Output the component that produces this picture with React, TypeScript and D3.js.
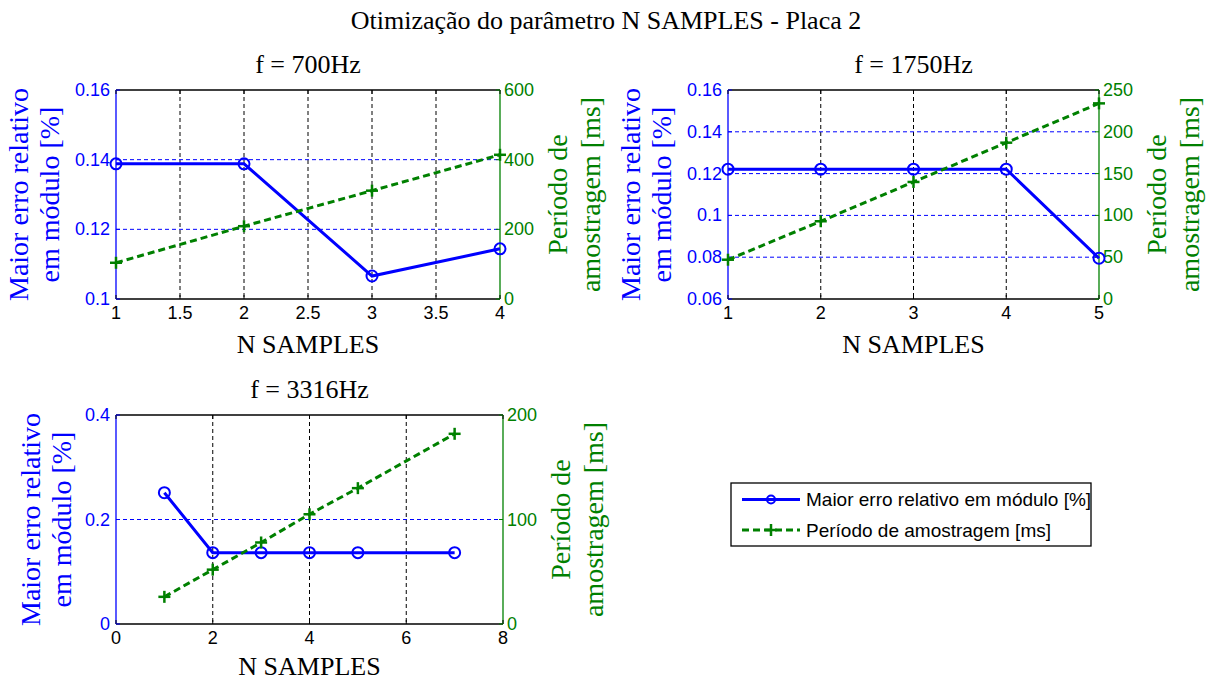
import React from "react";
import * as d3 from "d3";

// ---------- Data ----------
const mainTitle = "Otimização do parâmetro N SAMPLES - Placa 2";
const xLabel = "N SAMPLES";
const leftLabel = ["Maior erro relativo", "em módulo [%]"];
const rightLabel = ["Período de", "amostragem [ms]"];
const legendLabels = ["Maior erro relativo em módulo [%]", "Período de amostragem [ms]"];

const title700 = "f = 700Hz";
const nSamples700 = [1, 2, 3, 4];
const erro700 = [0.1388, 0.1388, 0.1066, 0.1144];
const periodo700 = [104, 209, 311, 414];
const xTicks700 = [1, 1.5, 2, 2.5, 3, 3.5, 4];
const yLeftTicks700 = [0.1, 0.12, 0.14, 0.16];
const yRightTicks700 = [0, 200, 400, 600];

const title1750 = "f = 1750Hz";
const nSamples1750 = [1, 2, 3, 4, 5];
const erro1750 = [0.1221, 0.1221, 0.1221, 0.1221, 0.0795];
const periodo1750 = [47, 93, 140, 187, 234];
const xTicks1750 = [1, 2, 3, 4, 5];
const yLeftTicks1750 = [0.06, 0.08, 0.1, 0.12, 0.14, 0.16];
const yRightTicks1750 = [0, 50, 100, 150, 200, 250];

const title3316 = "f = 3316Hz";
const nSamples3316 = [1, 2, 3, 4, 5, 7];
const erro3316 = [0.2513, 0.1365, 0.1365, 0.1365, 0.1365, 0.1365];
const periodo3316 = [26, 52, 78, 105, 130, 182];
const xTicks3316 = [0, 2, 4, 6, 8];
const yLeftTicks3316 = [0, 0.2, 0.4];
const yRightTicks3316 = [0, 100, 200];

// ---------- Styles ----------
const BLUE = "#0000ff";
const GREEN = "#008000";
const SERIF = "'Liberation Serif', 'Times New Roman', serif";
const SANS = "'Liberation Sans', Arial, sans-serif";
const LABEL_SIZE = 26;
const YLABEL_SIZE = 28;
const TICK_SIZE = 18;

const fmt = (v: number) => String(Number(v.toFixed(4)));

type PanelProps = {
  title: string;
  xs: number[];
  erro: number[];
  periodo: number[];
  xTicks: number[];
  yL: number[];
  yR: number[];
  box: { x0: number; x1: number; y0: number; y1: number };
  leftOff: [number, number];
  xLabelGap: number;
};

function Panel({ title, xs, erro, periodo, xTicks, yL, yR, box, leftOff, xLabelGap }: PanelProps) {
  const { x0, x1, y0, y1 } = box;
  const x = d3.scaleLinear().domain([xTicks[0], xTicks[xTicks.length - 1]]).range([x0, x1]);
  const yl = d3.scaleLinear().domain([yL[0], yL[yL.length - 1]]).range([y1, y0]);
  const yr = d3.scaleLinear().domain([yR[0], yR[yR.length - 1]]).range([y1, y0]);
  const lineL = d3.line<number>().x((_, i) => x(xs[i])).y((d) => yl(d));
  const lineR = d3.line<number>().x((_, i) => x(xs[i])).y((d) => yr(d));
  const cy = (y0 + y1) / 2;
  const tl = 4;
  return (
    <g>
      {/* grid */}
      {xTicks.slice(1, -1).map((t) => (
        <line key={"gx" + t} x1={x(t)} x2={x(t)} y1={y0} y2={y1} stroke="#000" strokeWidth={1} strokeDasharray="4,3" />
      ))}
      {yL.slice(1, -1).map((t) => (
        <line key={"gy" + t} x1={x0} x2={x1} y1={yl(t)} y2={yl(t)} stroke={BLUE} strokeWidth={1} strokeDasharray="4,3" />
      ))}
      {/* box */}
      <line x1={x0} x2={x1} y1={y0} y2={y0} stroke="#000" strokeWidth={1.3} />
      <line x1={x0} x2={x1} y1={y1} y2={y1} stroke="#000" strokeWidth={1.3} />
      <line x1={x0} x2={x0} y1={y0} y2={y1} stroke={BLUE} strokeWidth={1.3} />
      <line x1={x1} x2={x1} y1={y0} y2={y1} stroke={GREEN} strokeWidth={1.3} />
      {/* ticks */}
      {xTicks.map((t) => (
        <g key={"tx" + t}>
          <line x1={x(t)} x2={x(t)} y1={y1} y2={y1 - tl} stroke="#000" />
          <line x1={x(t)} x2={x(t)} y1={y0} y2={y0 + tl} stroke="#000" />
          <text x={x(t)} y={y1 + 7} textAnchor="middle" dominantBaseline="hanging" fontFamily={SANS} fontSize={TICK_SIZE} fill="#000">
            {fmt(t)}
          </text>
        </g>
      ))}
      {yL.map((t) => (
        <g key={"tl" + t}>
          <line x1={x0} x2={x0 + tl} y1={yl(t)} y2={yl(t)} stroke={BLUE} />
          <text x={x0 - 6} y={yl(t)} textAnchor="end" dominantBaseline="central" fontFamily={SANS} fontSize={TICK_SIZE} fill={BLUE}>
            {fmt(t)}
          </text>
        </g>
      ))}
      {yR.map((t) => (
        <g key={"tr" + t}>
          <line x1={x1} x2={x1 - tl} y1={yr(t)} y2={yr(t)} stroke={GREEN} />
          <text x={x1 + 4} y={yr(t)} textAnchor="start" dominantBaseline="central" fontFamily={SANS} fontSize={TICK_SIZE} fill={GREEN}>
            {fmt(t)}
          </text>
        </g>
      ))}
      {/* data: left (blue) */}
      <path d={lineL(erro) || ""} fill="none" stroke={BLUE} strokeWidth={3} />
      {erro.map((v, i) => (
        <circle key={"c" + i} cx={x(xs[i])} cy={yl(v)} r={5.5} fill="none" stroke={BLUE} strokeWidth={2} />
      ))}
      {/* data: right (green) */}
      <path d={lineR(periodo) || ""} fill="none" stroke={GREEN} strokeWidth={3} strokeDasharray="7,4" />
      {periodo.map((v, i) => (
        <g key={"p" + i} stroke={GREEN} strokeWidth={2.5}>
          <line x1={x(xs[i]) - 6} x2={x(xs[i]) + 6} y1={yr(v)} y2={yr(v)} />
          <line x1={x(xs[i])} x2={x(xs[i])} y1={yr(v) - 6} y2={yr(v) + 6} />
        </g>
      ))}
      {/* title & labels */}
      <text x={(x0 + x1) / 2} y={y0 - 17} textAnchor="middle" fontFamily={SERIF} fontSize={LABEL_SIZE} fill="#000">
        {title}
      </text>
      <text x={(x0 + x1) / 2} y={y1 + xLabelGap} textAnchor="middle" fontFamily={SERIF} fontSize={LABEL_SIZE} fill="#000">
        {xLabel}
      </text>
      {leftLabel.map((s, i) => (
        <text key={"ll" + i} transform={`translate(${x0 - leftOff[i] + 9},${cy}) rotate(-90)`} textAnchor="middle" fontFamily={SERIF} fontSize={YLABEL_SIZE} fill={BLUE}>
          {s}
        </text>
      ))}
      {rightLabel.map((s, i) => (
        <text key={"rl" + i} transform={`translate(${x1 + [58, 91][i] + 9},${cy}) rotate(-90)`} textAnchor="middle" fontFamily={SERIF} fontSize={YLABEL_SIZE} fill={GREEN}>
          {s}
        </text>
      ))}
    </g>
  );
}

export default function App() {
  const W = 1211;
  const H = 681;
  const lg = { x0: 731, x1: 1091, y0: 483, y1: 546 };
  const rowY = [499.5, 530];
  return (
    <div style={{ position: "absolute", left: 0, top: 0 }}>
      <svg width={W} height={H} viewBox={`0 0 ${W} ${H}`} style={{ display: "block", background: "#fff" }}>
        <rect x={0} y={0} width={W} height={H} fill="#fff" />
        <text x={606} y={29} textAnchor="middle" fontFamily={SERIF} fontSize={LABEL_SIZE} fill="#000">
          {mainTitle}
        </text>
        <Panel title={title700} xs={nSamples700} erro={erro700} periodo={periodo700} xTicks={xTicks700} yL={yLeftTicks700} yR={yRightTicks700} box={{ x0: 116, x1: 500, y0: 90, y1: 299 }} leftOff={[97, 66]} xLabelGap={54} />
        <Panel title={title1750} xs={nSamples1750} erro={erro1750} periodo={periodo1750} xTicks={xTicks1750} yL={yLeftTicks1750} yR={yRightTicks1750} box={{ x0: 728, x1: 1099, y0: 90, y1: 299 }} leftOff={[97, 66]} xLabelGap={54} />
        <Panel title={title3316} xs={nSamples3316} erro={erro3316} periodo={periodo3316} xTicks={xTicks3316} yL={yLeftTicks3316} yR={yRightTicks3316} box={{ x0: 116, x1: 503, y0: 415, y1: 624 }} leftOff={[85, 54]} xLabelGap={51} />
        {/* legend */}
        <rect x={lg.x0} y={lg.y0} width={lg.x1 - lg.x0} height={lg.y1 - lg.y0} fill="#fff" stroke="#000" strokeWidth={1.3} />
        <line x1={742} x2={800} y1={rowY[0]} y2={rowY[0]} stroke={BLUE} strokeWidth={3} />
        <circle cx={771} cy={rowY[0]} r={4} fill="none" stroke={BLUE} strokeWidth={2} />
        <line x1={742} x2={800} y1={rowY[1]} y2={rowY[1]} stroke={GREEN} strokeWidth={3} strokeDasharray="7,4" />
        <line x1={765} x2={777} y1={rowY[1]} y2={rowY[1]} stroke={GREEN} strokeWidth={2.5} />
        <line x1={771} x2={771} y1={rowY[1] - 6} y2={rowY[1] + 6} stroke={GREEN} strokeWidth={2.5} />
        {legendLabels.map((s, i) => (
          <text key={s} x={806} y={rowY[i]} dominantBaseline="central" fontFamily={SANS} fontSize={19} fill="#000">
            {s}
          </text>
        ))}
      </svg>
    </div>
  );
}
